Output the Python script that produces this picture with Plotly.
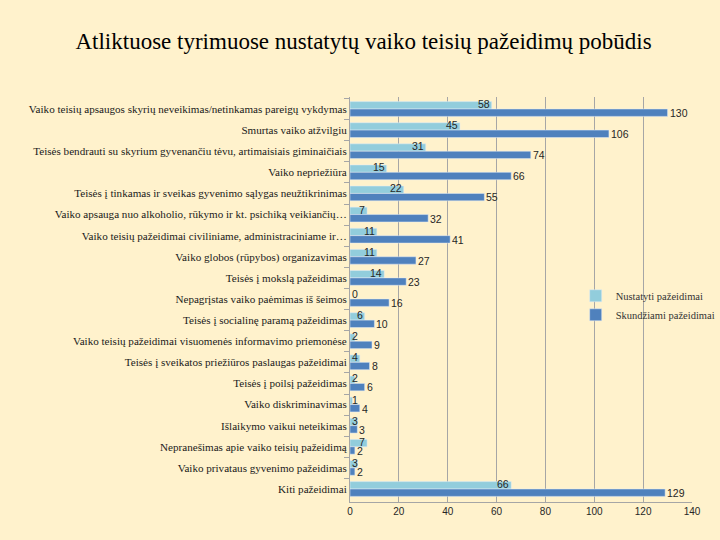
import plotly.graph_objects as go

categories = [
    "Vaiko teisių apsaugos skyrių neveikimas/netinkamas pareigų vykdymas",
    "Smurtas vaiko atžvilgiu",
    "Teisės bendrauti su skyrium gyvenančiu tėvu, artimaisiais giminaičiais",
    "Vaiko nepriežiūra",
    "Teisės į tinkamas ir sveikas gyvenimo sąlygas neužtikrinimas",
    "Vaiko apsauga nuo alkoholio, rūkymo ir kt. psichiką veikiančių…",
    "Vaiko teisių pažeidimai civiliniame, administraciniame ir…",
    "Vaiko globos (rūpybos) organizavimas",
    "Teisės į mokslą pažeidimas",
    "Nepagrįstas vaiko paėmimas iš šeimos",
    "Teisės į socialinę paramą pažeidimas",
    "Vaiko teisių pažeidimai visuomenės informavimo priemonėse",
    "Teisės į sveikatos priežiūros paslaugas pažeidimai",
    "Teisės į poilsį pažeidimas",
    "Vaiko diskriminavimas",
    "Išlaikymo vaikui neteikimas",
    "Nepranešimas apie vaiko teisių pažeidimą",
    "Vaiko privataus gyvenimo pažeidimas",
    "Kiti pažeidimai",
]
nustatyti = [58, 45, 31, 15, 22, 7, 11, 11, 14, 0, 6, 2, 4, 2, 1, 3, 7, 3, 66]
skundziami = [130, 106, 74, 66, 55, 32, 41, 27, 23, 16, 10, 9, 8, 6, 4, 3, 2, 2, 129]
x_ticks = [0, 20, 40, 60, 80, 100, 120, 140]

LIGHT = "#92CDDC"
DARK = "#4F81BD"
BG = "#FFF2CC"
GRID = "#A6A6A6"
LABEL_FONT = dict(family="Liberation Sans", size=10.5, color="#262626")

fig = go.Figure()
fig.add_trace(go.Bar(y=categories, x=nustatyti, orientation="h",
                     name="Nustatyti pažeidimai", marker_color=LIGHT))
fig.add_trace(go.Bar(y=categories, x=skundziami, orientation="h",
                     name="Skundžiami pažeidimai", marker_color=DARK))

annotations = []
for cat, v in zip(categories, nustatyti):
    if v <= 3:
        annotations.append(dict(x=0, y=cat, text=str(v), xanchor="left",
                                yshift=5, showarrow=False, font=LABEL_FONT))
    else:
        annotations.append(dict(x=v, y=cat, text=str(v), xanchor="right",
                                yshift=5, showarrow=False, font=LABEL_FONT))
for cat, v in zip(categories, skundziami):
    annotations.append(dict(x=v, y=cat, text=str(v), xanchor="left",
                            yshift=-4, showarrow=False, font=LABEL_FONT))

fig.update_layout(
    width=720, height=540,
    paper_bgcolor=BG, plot_bgcolor=BG,
    margin=dict(l=350, r=0, t=97, b=38),
    barmode="group", bargap=0.3, bargroupgap=0,
    title=dict(text="Atliktuose tyrimuose nustatytų vaiko teisių pažeidimų pobūdis",
               x=0.505, xanchor="center", y=0.925, yanchor="middle",
               font=dict(family="Liberation Serif", size=23, color="black")),
    xaxis=dict(domain=[0, 342 / 370], range=[0, 140], tickvals=x_ticks,
               showgrid=True, gridcolor=GRID,
               gridwidth=1, zeroline=False, showline=True, linecolor=GRID,
               ticks="", automargin=False,
               tickfont=dict(family="Liberation Sans", size=10, color="#262626")),
    yaxis=dict(autorange="reversed", showline=True, linecolor=GRID,
               ticks="outside", tickson="boundaries", ticklen=5, tickcolor=GRID,
               automargin=False,
               tickfont=dict(family="Liberation Serif", size=11.1, color="#1a1a1a")),
    legend=dict(x=0.61, y=0.545, xanchor="left", yanchor="top",
                bgcolor="rgba(0,0,0,0)", traceorder="normal",
                font=dict(family="Liberation Serif", size=10.5, color="#333333"),
                itemwidth=30, tracegroupgap=0),
    annotations=annotations,
)

fig.write_html(
    "out.html",
    config={"displayModeBar": False},
    post_script="document.body.style.margin='0';document.body.style.background='#FFF2CC';",
)
